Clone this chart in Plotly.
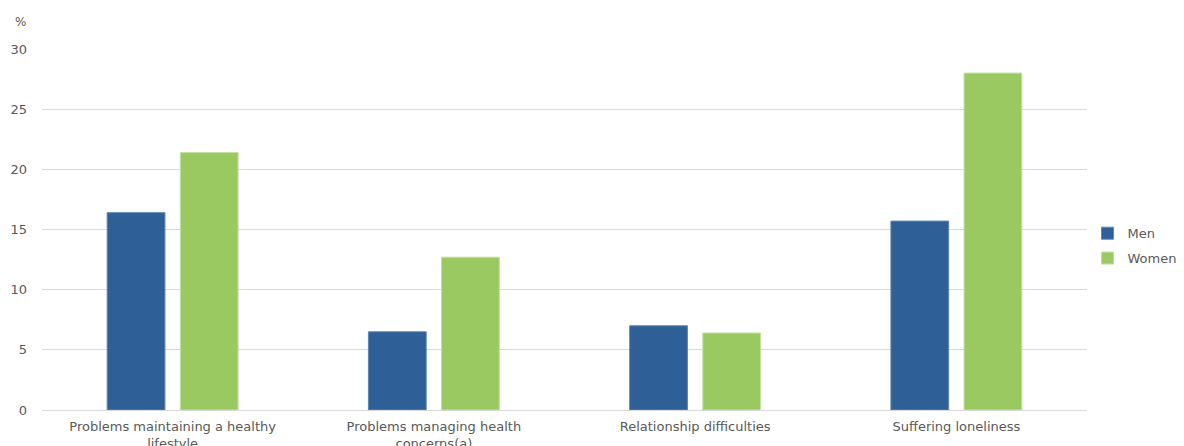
import plotly.graph_objects as go

categories = ["Problems maintaining a healthy<br>lifestyle",
              "Problems managing health<br>concerns(a)",
              "Relationship difficulties",
              "Suffering loneliness"]
men = [16.4, 6.5, 7.0, 15.7]
women = [21.4, 12.7, 6.4, 28.0]
y_ticks = [0, 5, 10, 15, 20, 25, 30]

FONT = "DejaVu Sans"
GREY = "#595959"

fig = go.Figure()
fig.add_trace(go.Bar(name="Men", x=categories, y=men, legendgroup="m",
                     marker=dict(color="#2E5F96", line=dict(color="#5F86B4", width=1))))
fig.add_trace(go.Bar(name="Women", x=categories, y=women, legendgroup="w",
                     marker=dict(color="#9BC961", line=dict(color="#C3E0A0", width=1))))

# page body has an 8px margin, so the figure is sized to fit the 1184x446 window
fig.update_layout(
    width=1176, height=438,
    margin=dict(l=34, r=97, t=41, b=36, autoexpand=False),
    paper_bgcolor="white", plot_bgcolor="white",
    barmode="group", bargap=0.44, bargroupgap=0.21,
    font=dict(family=FONT, size=13, color=GREY),
    legend=dict(x=1.0005, y=0.455, xanchor="left", yanchor="middle",
                font=dict(family=FONT, size=13, color=GREY),
                itemwidth=30, tracegroupgap=5, bgcolor="rgba(0,0,0,0)"),
    showlegend=True,
)
fig.update_yaxes(range=[0, 30], tickvals=y_ticks, showgrid=True,
                 gridcolor="#D9D9D9", gridwidth=1, zeroline=False,
                 showline=False, ticklabelstandoff=14,
                 tickfont=dict(family=FONT, size=13, color=GREY))
fig.update_xaxes(showline=True, linecolor="#D9D9D9", linewidth=1,
                 ticks="", ticklabelstandoff=4,
                 tickfont=dict(family=FONT, size=13, color=GREY))
fig.add_annotation(text="%", xref="paper", yref="paper", x=-0.021, y=1.075,
                   xanchor="center", yanchor="middle", showarrow=False,
                   font=dict(family=FONT, size=12, color=GREY))

fig.write_html("out.html")
